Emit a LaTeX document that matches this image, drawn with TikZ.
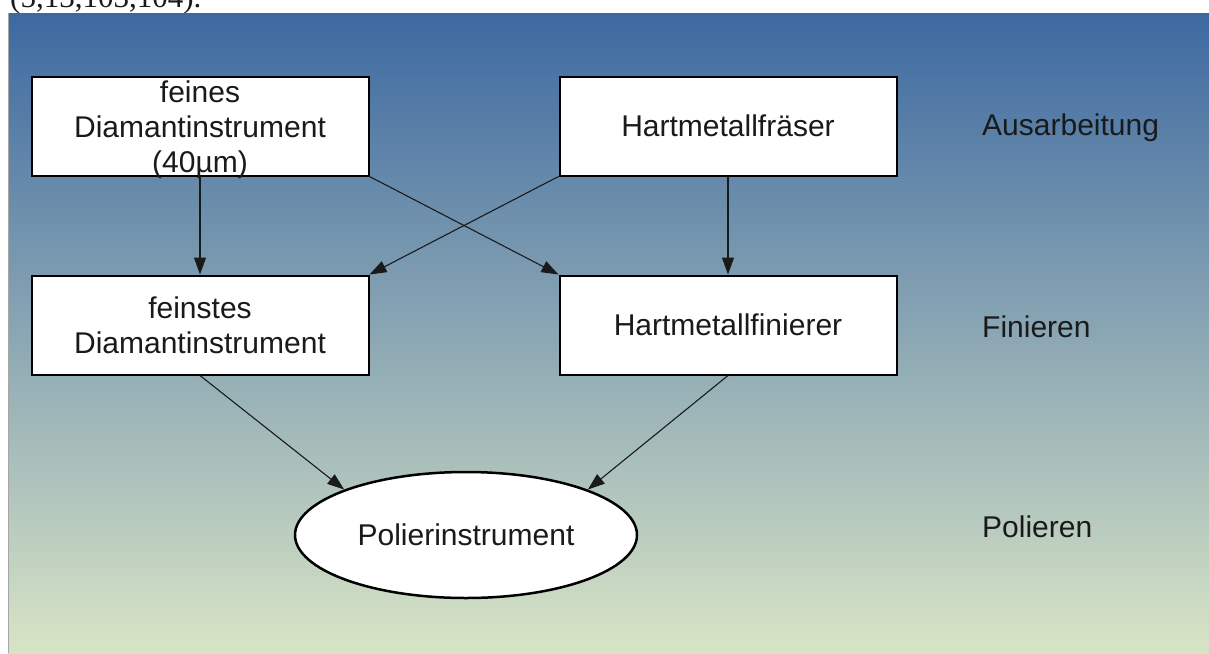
\documentclass[tikz,border=0pt]{standalone}
\usepackage{fontspec}
\setmainfont{Liberation Sans}
\newfontfamily\capfont{Liberation Serif}
\usetikzlibrary{arrows.meta,shapes.geometric}

\definecolor{skytop}{RGB}{61,105,161}
\definecolor{skybottom}{RGB}{216,228,198}
\definecolor{ink}{RGB}{26,26,26}

\begin{document}
\begin{tikzpicture}[x=1pt,y=-1pt,
  lbl/.style={font=\fontsize{30}{35}\selectfont, text=ink},
  box/.style={lbl, draw=black, line width=2pt, fill=white,
    minimum width=337pt, minimum height=99pt, inner sep=0pt, align=center},
  boxtext/.style={lbl, inner sep=0pt, align=center},
  oval/.style={lbl, ellipse, draw=black, line width=2.5pt, fill=white,
    minimum width=342pt, minimum height=126pt, inner sep=0pt},
  stage/.style={lbl, anchor=base west, inner sep=0pt},
  link/.style={-{Triangle[length=17pt,width=12pt]}, line width=1.1pt, draw=ink}]

\useasboundingbox (0,0) rectangle (1209,653);

% page strip with the caption line running off the top
\fill[white] (0,0) rectangle (1209,13);
\begin{scope}
  \clip (0,0) rectangle (1209,13);
  \node[anchor=base west, inner sep=0pt, font=\capfont\fontsize{31}{36}\selectfont, text=ink] (caption) at (10,7) {(5,13,103,104).};
\end{scope}

% gradient background panel
\shade[top color=skytop, bottom color=skybottom] (8,13) rectangle (1209,653);
\draw[black!35, line width=1pt] (8.5,13) -- (8.5,653);

% process nodes
\node[box] (fein)   at (200,126) {};
\node[boxtext] (feintext) at (200,130) {feines\\Diamantinstrument\\(40µm)};
\node[box] (hmf)    at (728,126) {Hartmetallfräser};
\node[box] (feinst) at (200,325) {feinstes\\Diamantinstrument};
\node[box] (hmfin)  at (728,325) {Hartmetallfinierer};
\node[oval] (pol)   at (466,535) {Polierinstrument};

% stage labels
\node[stage] (s1) at (982,135) {Ausarbeitung};
\node[stage] (s2) at (982,337) {Finieren};
\node[stage] (s3) at (982,537) {Polieren};

% connectors
\draw[link] (fein.south) -- (feinst.north);
\draw[link] (fein.south east) -- (hmfin.north west);
\draw[link] (hmf.south west) -- (feinst.north east);
\draw[link] (hmf.south) -- (hmfin.north);
\draw[link] (feinst.south) -- (pol.north west);
\draw[link] (hmfin.south) -- (pol.north east);
\end{tikzpicture}
\end{document}
